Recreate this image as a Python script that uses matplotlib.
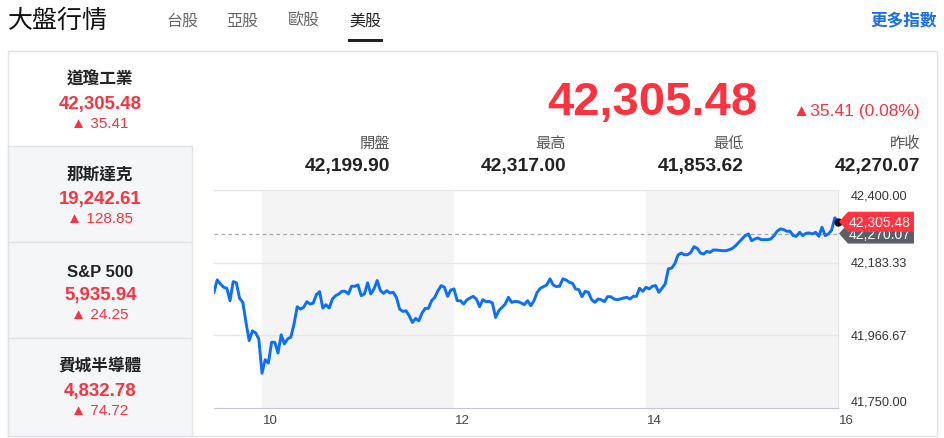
import numpy as np
import matplotlib
matplotlib.use("Agg")
import matplotlib.pyplot as plt
from matplotlib.patches import Rectangle, Polygon

plt.rcParams['font.family'] = ['Liberation Sans', 'Noto Sans CJK TC', 'DejaVu Sans']

W, H = 944, 439
RED = '#fb3340'
BLUE_LINE = '#0b6ffd'

# --- data -------------------------------------------------------------
tabs = ["台股", "亞股", "歐股", "美股"]
index_names = ["道瓊工業", "那斯達克", "S&P 500", "費城半導體"]
index_values = ["42,305.48", "19,242.61", "5,935.94", "4,832.78"]
index_changes = ["35.41", "128.85", "24.25", "74.72"]

last_price = 42305.48
prev_close = 42270.07
change_text = "35.41 (0.08%)"
stat_labels = ["開盤", "最高", "最低", "昨收"]
stat_values = ["42,199.90", "42,317.00", "41,853.62", "42,270.07"]

# intraday, one value every 2 minutes from 09:30
dow = [
    42095, 42132, 42120, 42110, 42107, 42070, 42127, 42123, 42077, 42065,
    42005, 41951, 41980, 41974, 41956, 41853.62, 41894, 41884, 41946, 41946,
    41914, 41968, 41941, 41956, 41961, 42000, 42052, 42045, 42050, 42067,
    42060, 42063, 42088, 42097, 42048, 42058, 42048, 42075, 42085, 42090,
    42098, 42098, 42090, 42113, 42113, 42117, 42085, 42090, 42123, 42090,
    42105, 42130, 42100, 42092, 42100, 42093, 42095, 42080, 42045, 42038,
    42040, 42025, 42005, 42017, 42010, 42033, 42047, 42047, 42070, 42080,
    42100, 42115, 42110, 42083, 42102, 42105, 42070, 42070, 42060, 42072,
    42078, 42083, 42075, 42052, 42073, 42067, 42068, 42063, 42020, 42040,
    42050, 42060, 42080, 42065, 42068, 42067, 42063, 42058, 42070, 42055,
    42070, 42095, 42107, 42112, 42117, 42135, 42117, 42112, 42113, 42135,
    42132, 42125, 42122, 42105, 42103, 42082, 42098, 42095, 42073, 42065,
    42075, 42073, 42067, 42082, 42082, 42075, 42073, 42075, 42078, 42080,
    42075, 42083, 42083, 42107, 42098, 42110, 42105, 42113, 42115, 42095,
    42107, 42120, 42165, 42167, 42180, 42206, 42212, 42207, 42207, 42214,
    42231, 42226, 42212, 42209, 42217, 42214, 42221, 42221, 42220, 42219,
    42219, 42222, 42226, 42234, 42244, 42254, 42264, 42269, 42249, 42254,
    42257, 42252, 42252, 42252, 42254, 42264, 42277, 42284, 42282, 42277,
    42277, 42264, 42262, 42274, 42264, 42271, 42272, 42269, 42274, 42262,
    42289, 42264, 42269, 42280, 42317, 42305.48,
]
minutes = np.arange(len(dow)) * 2  # minutes after 09:30

hour_ticks = [30, 150, 270, 390]
hour_labels = ["10", "12", "14", "16"]
shaded = [(30, 150), (270, 390)]
y_ticks = [41750.00, 41966.67, 42183.33, 42400.00]


def draw_tag(fg, ax, value, text, face, z):
    # price tag with a point on the left, placed at the value's height
    yc = H - ax.transData.transform((0, value))[1]
    pts = [(839, yc), (848, yc - 10), (914, yc - 10), (914, yc + 10), (848, yc + 10)]
    fg.add_patch(Polygon(pts, closed=True, facecolor=face, edgecolor='none', zorder=z))
    fg.text(880, yc + 0.5, text, ha='center', va='center', color='white',
            fontsize=10, zorder=z + 0.1)


def main():
    fig = plt.figure(figsize=(W / 100, H / 100), dpi=100)

    bg = fig.add_axes([0, 0, 1, 1], zorder=0)
    bg.set_xlim(0, W)
    bg.set_ylim(H, 0)
    bg.axis('off')

    # header
    bg.text(8, 21, "大盤行情", fontsize=18, color='#111', va='center', ha='left')
    tab_x = [182.5, 242.5, 303, 365.5]
    for name, x in zip(tabs, tab_x):
        active = name == "美股"
        bg.text(x, 21, name, fontsize=11.5, ha='center', va='center',
                color='#222' if active else '#666')
    bg.add_patch(Rectangle((348, 39.5), 35, 3, facecolor='#222', edgecolor='none'))
    bg.text(937, 20, "更多指數", fontsize=12, fontweight='bold', color='#1a6fe6',
            ha='right', va='center')

    # outer frame and left column
    bg.add_patch(Rectangle((8, 52), 929, 385, facecolor='white', edgecolor='#e3e3e3', lw=1))
    cell_top = [52, 147, 243, 339]
    for i in range(1, 4):
        bg.add_patch(Rectangle((8, cell_top[i]), 184, (cell_top[i + 1] if i < 3 else 437) - cell_top[i],
                               facecolor='#f5f6f8', edgecolor='#e0e2e7', lw=1))

    title_y = [80, 175, 271, 367]
    for name, val, chg, ty in zip(index_names, index_values, index_changes, title_y):
        if name.isascii():
            bg.text(100, ty + 6, name, fontsize=12, fontweight='bold', color='#222',
                    ha='center', va='baseline')
        else:
            bg.text(100, ty, name, fontsize=12, fontweight='bold', color='#222',
                    ha='center', va='center')
        bg.text(100.5, ty + 29.5, val, fontsize=13.4, fontweight='bold', color=RED,
                ha='center', va='baseline')
        bg.text(100, ty + 48.5, "▲ " + chg, fontsize=11, color=RED,
                ha='center', va='baseline')

    # quote header
    bg.text(757, 115, f"{last_price:,.2f}", fontsize=34, fontweight='bold', color=RED,
            ha='right', va='baseline')
    bg.text(920, 116, "▲" + change_text, fontsize=12.5, color=RED, ha='right', va='baseline')
    stat_x = [390, 566, 744, 920]
    for lab, val, x in zip(stat_labels, stat_values, stat_x):
        bg.text(x, 144, lab, fontsize=11, color='#555', ha='right', va='center')
        bg.text(x, 171, val, fontsize=13.9, fontweight='bold', color='#222',
                ha='right', va='baseline')

    # chart
    ax = fig.add_axes([214 / W, 1 - 409 / H, (838 - 214) / W, (409 - 191) / H], zorder=1)
    ax.set_facecolor('none')
    ax.set_xlim(0, 390)
    ax.set_ylim(y_ticks[0], y_ticks[-1])
    for a, b in shaded:
        ax.axvspan(a, b, color='#f4f4f4', lw=0, zorder=0)
    for yv in y_ticks[1:]:
        ax.axhline(yv, color='#e6e6e6', lw=1, zorder=1)
    ax.axhline(prev_close, color='#aaaaaa', lw=0.9, dashes=(3, 2.5), zorder=2)
    ax.plot(minutes, dow, color=BLUE_LINE, lw=2.1, zorder=3, solid_joinstyle='round')
    ax.plot(minutes[-1], dow[-1], 'o', color='#111', ms=5, zorder=4, clip_on=False)

    for side in ['left', 'top']:
        ax.spines[side].set_visible(False)
    ax.spines['bottom'].set_color('#c6c6d2')
    ax.spines['right'].set_color('#e2e2e6')
    ax.set_xticks([])
    ax.set_yticks([])

    for t, lab in zip(hour_ticks, hour_labels):
        px = 214 + (838 - 214) * t / 390
        bg.text(px + 1, 421, lab, fontsize=9.5, color='#444', ha='left', va='center')

    for i, yv in enumerate(y_ticks):
        py = H - ax.transData.transform((0, yv))[1]
        va = 'top' if i == len(y_ticks) - 1 else ('bottom' if i == 0 else 'center')
        bg.text(851, py, f"{yv:,.2f}", fontsize=9.2, color='#333', ha='left', va=va)

    fg = fig.add_axes([0, 0, 1, 1], zorder=2)
    fg.set_xlim(0, W)
    fg.set_ylim(H, 0)
    fg.axis('off')
    fg.patch.set_alpha(0)
    draw_tag(fg, ax, prev_close, f"{prev_close:,.2f}", '#596067', 1)
    draw_tag(fg, ax, last_price, f"{last_price:,.2f}", '#ff3341', 2)

    fig.savefig("out.png", dpi=100)
    plt.close(fig)


if __name__ == "__main__":
    main()
